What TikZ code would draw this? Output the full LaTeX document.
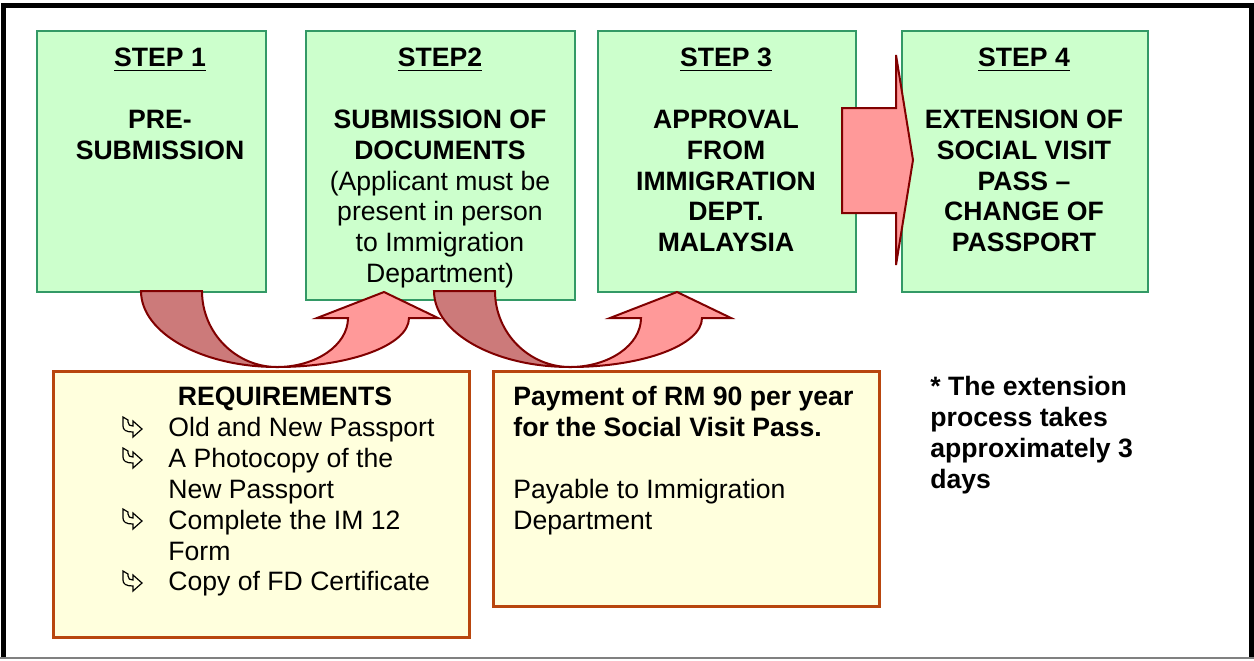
\documentclass[tikz,border=0pt]{standalone}
\usepackage{fontspec}
\setmainfont{Liberation Sans}
\usetikzlibrary{positioning}

\definecolor{stepgreen}{RGB}{204,255,204}
\definecolor{stepline}{RGB}{51,153,102}
\definecolor{notefill}{RGB}{255,255,221}
\definecolor{noteline}{RGB}{184,70,14}
\definecolor{arrowpink}{RGB}{255,153,153}
\definecolor{arrowshade}{RGB}{204,122,122}
\definecolor{arrowline}{RGB}{128,0,0}

\tikzset{
  bendarrow/.pic={
    \filldraw[fill=arrowpink,draw=arrowline,line width=1pt]
      (136,76) .. controls (209,76) and (268,54) .. (268,27)
      -- (297,27) -- (243,1) -- (176,27) -- (207,27)
      .. controls (207,54) and (175,76) .. (136,76) -- cycle;
    \filldraw[fill=arrowshade,draw=arrowline,line width=1pt]
      (0,0) -- (61,0) .. controls (61,42) and (95,76) .. (136,76)
      .. controls (61,76) and (0,42) .. (0,0) -- cycle;
  },
  reqmark/.pic={
    \filldraw[fill=notefill,draw=black,line width=0.6pt]
      (1,0) -- (1,9) .. controls (1,13) and (4,15) .. (11,15)
      -- (11,20) -- (20,12) -- (11,4) -- (11,9)
      .. controls (8,9) and (6,8) .. (6,5) -- (6,3) -- cycle;
  }
}

\begin{document}
\begin{tikzpicture}[x=0.5pt,y=-0.5pt,line join=miter,
    font=\fontsize{13.3}{15.4}\selectfont]
  \tikzstyle{stepbox}=[draw=stepline,fill=stepgreen,line width=1pt,anchor=north west,inner sep=0pt]
  \tikzstyle{notebox}=[draw=noteline,fill=notefill,line width=1.5pt,anchor=north west,inner sep=0pt]
  \tikzstyle{steptext}=[anchor=north,align=center,inner sep=0pt,font=\fontsize{13.3}{15.4}\selectfont\bfseries]
  \tikzstyle{listtext}=[anchor=north west,align=left,inner sep=0pt]

  \useasboundingbox (0,0) rectangle (1254,660);
  \fill[white] (0,0) rectangle (1254,660);

  % frame
  \draw[line width=2.5pt] (3,657) |- (1251.5,5.5) -- (1251.5,657);
  \draw[gray,line width=1pt] (0,657.5) -- (1254,657.5);

  % the four steps
  \node[stepbox,minimum width=114.5pt,minimum height=130.5pt] (step1) at (36,30) {};
  \node[stepbox,minimum width=134.5pt,minimum height=134.5pt] (step2) at (305,30) {};
  \node[stepbox,minimum width=129pt,minimum height=130.5pt] (step3) at (597,30) {};
  \node[stepbox,minimum width=123pt,minimum height=130.5pt] (step4) at (901,30) {};

  \node[steptext] (step1txt) at (160,45) {\strut\underline{STEP 1}\\[15.4pt]PRE-\\SUBMISSION};
  \node[steptext] (step2txt) at (440,45) {\strut\underline{STEP2}\\[15.4pt]SUBMISSION OF\\DOCUMENTS\\
    {\mdseries (Applicant must be}\\{\mdseries present in person}\\{\mdseries to Immigration}\\{\mdseries Department)}};
  \node[steptext] (step3txt) at (726,45) {\strut\underline{STEP 3}\\[15.4pt]APPROVAL\\FROM\\IMMIGRATION\\DEPT.\\MALAYSIA};
  \node[steptext] (step4txt) at (1024,45) {\strut\underline{STEP 4}\\[15.4pt]EXTENSION OF\\SOCIAL VISIT\\PASS --\\CHANGE OF\\PASSPORT};

  % boxes below
  \node[notebox,minimum width=208pt,minimum height=133pt] (req) at (52,370) {};
  \node[notebox,minimum width=193pt,minimum height=117.5pt] (pay) at (492,370) {};

  \node[steptext] (reqhead) at (285,384) {\strut REQUIREMENTS};
  \node[listtext] (reqlist) at (168,415) {\strut Old and New Passport\\A Photocopy of the\\New Passport\\
    Complete the IM 12\\Form\\Copy of FD Certificate};
  \foreach \y in {417,448,509,571}
    \pic at (122,\y) {reqmark};

  \node[listtext] (paytxt) at (513,384) {\strut\textbf{Payment of RM 90 per year}\\
    \textbf{for the Social Visit Pass.}\\[15.4pt]Payable to Immigration\\Department};

  \node[listtext,font=\fontsize{13.3}{15.4}\selectfont\bfseries] (note) at (930,374)
    {\strut * The extension\\process takes\\approximately 3\\days};

  % arrows
  \pic at (141,291) {bendarrow};
  \pic at (434,291) {bendarrow};
  \filldraw[fill=arrowpink,draw=arrowline,line width=1pt]
    (842,108) -- (896,108) -- (896,55) -- (913,160) -- (896,265) -- (896,213) -- (842,213) -- cycle;
\end{tikzpicture}
\end{document}
